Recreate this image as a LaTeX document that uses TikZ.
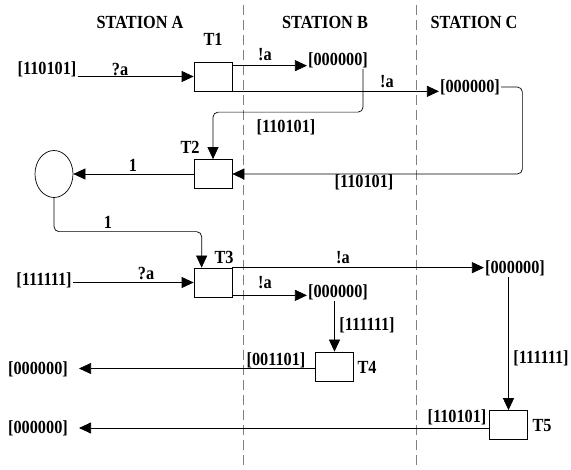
\documentclass[tikz,border=0pt]{standalone}
\usepackage{fontspec}
\setmainfont[FakeStretch=0.88]{Liberation Serif}
\usetikzlibrary{arrows.meta,positioning,calc,shapes.geometric}

\begin{document}
\begin{tikzpicture}[
    x=1pt, y=-1pt,
    lbl/.style={font=\bfseries\fontsize{18.5}{20}\selectfont, inner sep=1pt},
    trans/.style={draw, fill=white, line width=0.7pt, minimum width=38pt, minimum height=29pt, inner sep=0pt},
    place/.style={draw, ellipse, line width=0.7pt, minimum width=38pt, minimum height=47pt, inner sep=0pt},
    arc/.style={-{Triangle[length=12pt,width=11pt]}, line width=0.7pt},
    lane/.style={gray, line width=0.6pt, dash pattern=on 10pt off 5pt}
]
\useasboundingbox (0,0) rectangle (571,470);

% Stationen
\node[lbl] (hA) at (140,22) {STATION A};
\node[lbl] (hB) at (325,22) {STATION B};
\node[lbl] (hC) at (474,22) {STATION C};
\draw[lane] (243,5) -- (243,470);
\draw[lane] (416,5) -- (416,470);

% Transitionen und Stelle
\node[trans] (t1) at (213,76.5) {};
\node[trans] (t2) at (213,174) {};
\node[trans] (t3) at (213,282.5) {};
\node[trans] (t4) at (334.5,366.5) {};
\node[trans] (t5) at (508.5,425) {};
\node[place] (p1) at (54,174) {};
\node[lbl] at (213,39) {T1};
\node[lbl] at (190,147) {T2};
\node[lbl] at (224,257) {T3};
\node[lbl] at (367,367) {T4};
\node[lbl] at (542,426) {T5};

% Nachrichten
\node[lbl] (in1) at (47,69) {[110101]};
\node[lbl] (b1) at (338,60) {[000000]};
\node[lbl] (c1) at (470,87) {[000000]};
\node[lbl] (in2) at (44,280) {[111111]};
\node[lbl] (c2) at (515,268) {[000000]};
\node[lbl] (b2) at (338,292) {[000000]};
\node[lbl] (o1) at (38,369) {[000000]};
\node[lbl] (o2) at (38,428) {[000000]};

% Kanten T1, T2
\draw[arc] (t1.west -| in1.east) -- (t1.west);
\draw[arc] ([yshift=-4pt]t1.north east) -- ([yshift=-4pt]t1.north east -| b1.west);
\draw[arc] (t1.south east) -- (t1.south east -| c1.west);
\draw[arc, rounded corners=5pt] ([xshift=-6pt]b1.south east) |- ([yshift=47pt]t2.north) -- (t2.north);
\draw[arc, rounded corners=5pt] (c1.east) -| ([xshift=290pt]t2.east) -- (t2.east);
\draw[arc] (t2.west) -- (p1.east);
\node[lbl] at (120,70) {?a};
\node[lbl] at (265,55) {!a};
\node[lbl] at (387,82) {!a};
\node[lbl] at (286,127) {[110101]};
\node[lbl] at (133,165) {1};
\node[lbl] at (364,182) {[110101]};

% Kanten T3
\draw[arc, rounded corners=5pt] (p1.south) |- ([xshift=8pt,yshift=36pt]t3.north west) -- ([xshift=8pt]t3.north west);
\draw[arc] (t3.west -| in2.east) -- (t3.west);
\draw[arc] (t3.north east) -- (t3.north east -| c2.west);
\draw[arc] ([yshift=2pt]t3.south east) -- ([yshift=2pt]t3.south east -| b2.west);
\node[lbl] at (108,222) {1};
\node[lbl] at (146,274) {?a};
\node[lbl] at (343,258) {!a};
\node[lbl] at (265,283) {!a};

% Kanten T4, T5
\draw[arc] (b2.south -| t4.north) -- (t4.north);
\draw[arc] (c2.south -| t5.north) -- (t5.north);
\draw[arc, shorten >=10pt] ([yshift=-2pt]t4.west) -- ([yshift=-2pt]t4.west -| o1.east);
\draw[arc, shorten >=10pt] ([yshift=-3pt]t5.west) -- ([yshift=-3pt]t5.west -| o2.east);
\node[lbl] at (367,325) {[111111]};
\node[lbl] at (276,360) {[001101]};
\node[lbl] at (541,358) {[111111]};
\node[lbl] at (457,417) {[110101]};

\end{tikzpicture}
\end{document}
